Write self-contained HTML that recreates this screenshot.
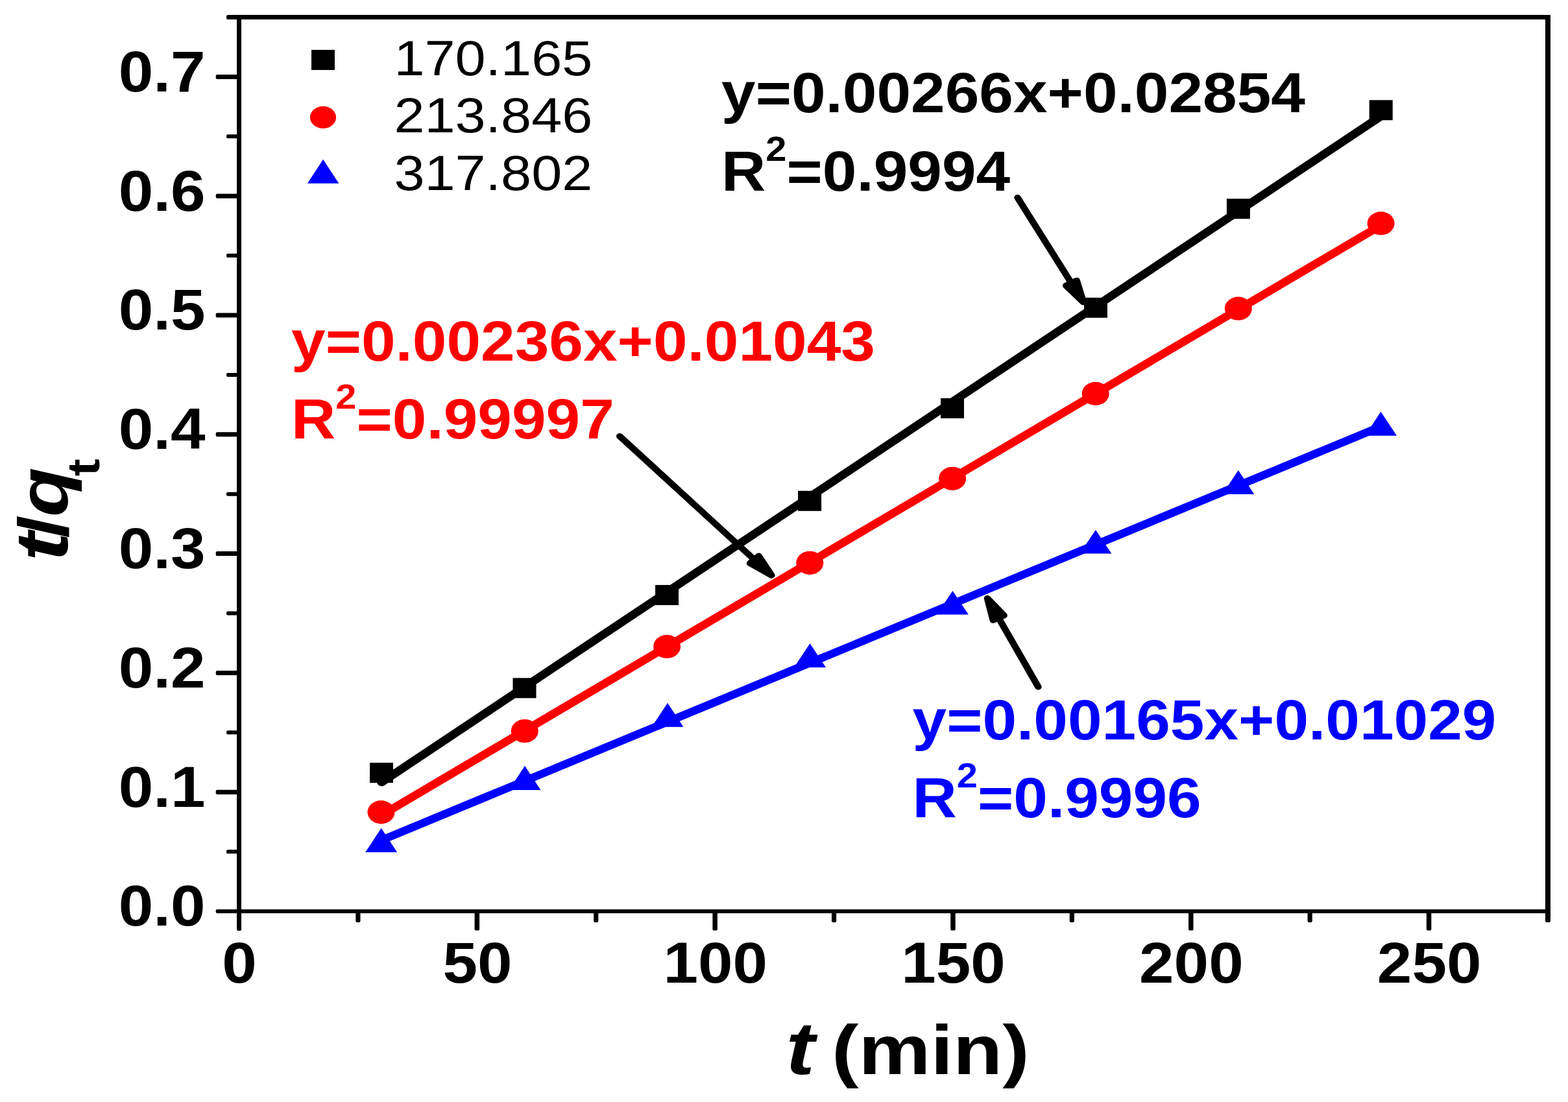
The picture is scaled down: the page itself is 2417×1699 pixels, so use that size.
<!DOCTYPE html>
<html lang="en"><head><meta charset="utf-8"><title>t/qt versus t (min)</title>
<style>html,body{margin:0;padding:0;background:#ffffff;}body{width:2417px;height:1699px;overflow:hidden;}svg{display:block;}text{font-family:"Liberation Sans",sans-serif;font-kerning:none;}.b{font-weight:bold;}.bi{font-weight:bold;font-style:italic;}.r{font-weight:normal;}</style></head><body>
<svg width="2417" height="1699" viewBox="0 0 2417 1699" role="img" aria-label="Pseudo-second-order kinetics plot: t/qt versus t (min)">
<rect x="0" y="0" width="2417" height="1699" fill="#ffffff"/>
<g id="series">
<g class="markers-s">
<rect x="570.00" y="1175.90" width="36.00" height="31.00" fill="#000000"/>
<rect x="790.50" y="1045.30" width="36.00" height="31.00" fill="#000000"/>
<rect x="1010.05" y="901.90" width="36.00" height="31.00" fill="#000000"/>
<rect x="1230.10" y="756.80" width="36.00" height="31.00" fill="#000000"/>
<rect x="1450.00" y="613.90" width="36.00" height="31.00" fill="#000000"/>
<rect x="1671.00" y="458.90" width="36.00" height="31.00" fill="#000000"/>
<rect x="1890.90" y="306.40" width="36.00" height="31.00" fill="#000000"/>
<rect x="2110.70" y="154.30" width="36.00" height="31.00" fill="#000000"/>
</g>
<g transform="scale(1.150,1)"><line x1="511.47" y1="1206.08" x2="1851.15" y2="179.09" stroke="#000000" stroke-width="12.10" stroke-linecap="round"/></g>
<g class="markers-c">
<ellipse cx="587.50" cy="1252.10" rx="21.00" ry="18.10" fill="#ff0000"/>
<ellipse cx="808.80" cy="1127.00" rx="21.00" ry="18.10" fill="#ff0000"/>
<ellipse cx="1028.10" cy="996.90" rx="21.00" ry="18.10" fill="#ff0000"/>
<ellipse cx="1248.30" cy="867.80" rx="21.00" ry="18.10" fill="#ff0000"/>
<ellipse cx="1468.10" cy="737.80" rx="21.00" ry="18.10" fill="#ff0000"/>
<ellipse cx="1688.70" cy="606.90" rx="21.00" ry="18.10" fill="#ff0000"/>
<ellipse cx="1908.80" cy="475.70" rx="21.00" ry="18.10" fill="#ff0000"/>
<ellipse cx="2128.55" cy="344.40" rx="21.00" ry="18.10" fill="#ff0000"/>
</g>
<g transform="scale(1.150,1)"><line x1="511.47" y1="1256.71" x2="1851.15" y2="347.16" stroke="#ff0000" stroke-width="12.10" stroke-linecap="round"/></g>
<g class="markers-t">
<polygon points="587.70,1276.70 612.20,1314.00 563.20,1314.00" fill="#0000ff"/>
<polygon points="809.00,1180.70 833.50,1217.90 784.50,1217.90" fill="#0000ff"/>
<polygon points="1029.00,1083.80 1053.50,1120.80 1004.50,1120.80" fill="#0000ff"/>
<polygon points="1248.50,992.00 1273.00,1028.90 1224.00,1028.90" fill="#0000ff"/>
<polygon points="1468.40,911.10 1492.90,947.60 1443.90,947.60" fill="#0000ff"/>
<polygon points="1688.90,817.10 1713.40,853.60 1664.40,853.60" fill="#0000ff"/>
<polygon points="1908.80,724.90 1933.30,761.90 1884.30,761.90" fill="#0000ff"/>
<polygon points="2128.50,634.70 2153.00,671.80 2104.00,671.80" fill="#0000ff"/>
</g>
<g transform="scale(1.150,1)"><line x1="511.47" y1="1295.34" x2="1851.15" y2="657.53" stroke="#0000ff" stroke-width="12.10" stroke-linecap="round"/></g>
</g>
<g id="arrows" transform="scale(1.150,1)" stroke="#000" stroke-width="9.20" fill="none">
<line x1="1363.91" y1="304.60" x2="1436.01" y2="436.41" stroke-linecap="round"/>
<polygon points="1452.09,465.80 1428.86,440.32 1443.16,432.50" fill="#000" stroke-linejoin="round"/>
<line x1="830.61" y1="672.50" x2="1011.20" y2="862.80" stroke-linecap="round"/>
<polygon points="1034.26,887.10 1005.29,868.41 1017.11,857.19" fill="#000" stroke-linejoin="round"/>
<line x1="1391.65" y1="1059.00" x2="1338.45" y2="952.47" stroke-linecap="round"/>
<polygon points="1323.48,922.50 1345.74,948.83 1331.16,956.11" fill="#000" stroke-linejoin="round"/>
</g>
<g id="axes" fill="#000" shape-rendering="crispEdges">
<rect x="365.00" y="23.00" width="7.00" height="1385.00" fill="#000"/>
<rect x="2382.00" y="23.00" width="8.00" height="1385.00" fill="#000"/>
<rect x="365.00" y="23.00" width="2025.00" height="7.00" fill="#000"/>
<rect x="365.00" y="1402.00" width="2025.00" height="6.00" fill="#000"/>
</g>
<g id="ticks" fill="#000">
<rect x="332.70" y="1402.00" width="34.30" height="6.00" rx="2.2" ry="2.2"/>
<rect x="349.00" y="23.00" width="18.00" height="7.00" rx="2.2" ry="2.2"/>
<rect x="365.00" y="1404.00" width="7.00" height="31.00" rx="2.2" ry="2.2"/>
<rect x="2382.00" y="1404.00" width="8.00" height="18.00" rx="2.2" ry="2.2"/>
<rect x="332.70" y="1217.70" width="34.30" height="7.00" rx="2.2" ry="2.2"/>
<rect x="332.70" y="1033.90" width="34.30" height="7.00" rx="2.2" ry="2.2"/>
<rect x="332.70" y="850.10" width="34.30" height="7.00" rx="2.2" ry="2.2"/>
<rect x="332.70" y="666.30" width="34.30" height="7.00" rx="2.2" ry="2.2"/>
<rect x="332.70" y="482.50" width="34.30" height="7.00" rx="2.2" ry="2.2"/>
<rect x="332.70" y="298.70" width="34.30" height="7.00" rx="2.2" ry="2.2"/>
<rect x="332.70" y="114.90" width="34.30" height="7.00" rx="2.2" ry="2.2"/>
<rect x="349.00" y="1310.10" width="18.00" height="6.00" rx="2.2" ry="2.2"/>
<rect x="349.00" y="1126.30" width="18.00" height="6.00" rx="2.2" ry="2.2"/>
<rect x="349.00" y="942.50" width="18.00" height="6.00" rx="2.2" ry="2.2"/>
<rect x="349.00" y="758.70" width="18.00" height="6.00" rx="2.2" ry="2.2"/>
<rect x="349.00" y="574.90" width="18.00" height="6.00" rx="2.2" ry="2.2"/>
<rect x="349.00" y="391.10" width="18.00" height="6.00" rx="2.2" ry="2.2"/>
<rect x="349.00" y="207.30" width="18.00" height="6.00" rx="2.2" ry="2.2"/>
<rect x="731.57" y="1404.00" width="7.50" height="30.60" rx="2.2" ry="2.2"/>
<rect x="1098.39" y="1404.00" width="7.50" height="30.60" rx="2.2" ry="2.2"/>
<rect x="1465.20" y="1404.00" width="7.50" height="30.60" rx="2.2" ry="2.2"/>
<rect x="1832.02" y="1404.00" width="7.50" height="30.60" rx="2.2" ry="2.2"/>
<rect x="2198.84" y="1404.00" width="7.50" height="30.60" rx="2.2" ry="2.2"/>
<rect x="548.31" y="1404.00" width="7.20" height="17.90" rx="2.2" ry="2.2"/>
<rect x="915.13" y="1404.00" width="7.20" height="17.90" rx="2.2" ry="2.2"/>
<rect x="1281.95" y="1404.00" width="7.20" height="17.90" rx="2.2" ry="2.2"/>
<rect x="1648.76" y="1404.00" width="7.20" height="17.90" rx="2.2" ry="2.2"/>
<rect x="2015.58" y="1404.00" width="7.20" height="17.90" rx="2.2" ry="2.2"/>
</g>
<g id="ylabels">
<text class="b" transform="translate(316.50,1427.40) scale(1.0880,1)" font-size="88.50" fill="#000" text-anchor="end">0.0</text>
<text class="b" transform="translate(316.50,1243.60) scale(1.0880,1)" font-size="88.50" fill="#000" text-anchor="end">0.1</text>
<text class="b" transform="translate(316.50,1059.80) scale(1.0880,1)" font-size="88.50" fill="#000" text-anchor="end">0.2</text>
<text class="b" transform="translate(316.50,876.00) scale(1.0880,1)" font-size="88.50" fill="#000" text-anchor="end">0.3</text>
<text class="b" transform="translate(316.50,692.20) scale(1.0880,1)" font-size="88.50" fill="#000" text-anchor="end">0.4</text>
<text class="b" transform="translate(316.50,508.40) scale(1.0880,1)" font-size="88.50" fill="#000" text-anchor="end">0.5</text>
<text class="b" transform="translate(316.50,324.60) scale(1.0880,1)" font-size="88.50" fill="#000" text-anchor="end">0.6</text>
<text class="b" transform="translate(316.50,140.80) scale(1.0880,1)" font-size="88.50" fill="#000" text-anchor="end">0.7</text>
</g>
<g id="xlabels">
<text class="b" transform="translate(369.10,1514.80) scale(1.0880,1)" font-size="88.50" fill="#000" text-anchor="middle">0</text>
<text class="b" transform="translate(735.92,1514.80) scale(1.0880,1)" font-size="88.50" fill="#000" text-anchor="middle">50</text>
<text class="b" transform="translate(1102.74,1514.80) scale(1.0880,1)" font-size="88.50" fill="#000" text-anchor="middle">100</text>
<text class="b" transform="translate(1469.55,1514.80) scale(1.0880,1)" font-size="88.50" fill="#000" text-anchor="middle">150</text>
<text class="b" transform="translate(1836.37,1514.80) scale(1.0880,1)" font-size="88.50" fill="#000" text-anchor="middle">200</text>
<text class="b" transform="translate(2203.19,1514.80) scale(1.0880,1)" font-size="88.50" fill="#000" text-anchor="middle">250</text>
</g>
<g id="legend">
<rect x="480.00" y="76.90" width="36.00" height="31.00" fill="#000000"/>
<ellipse cx="498.00" cy="180.96" rx="20.10" ry="17.10" fill="#ff0000"/>
<polygon points="498.10,245.80 522.30,282.70 473.90,282.70" fill="#0000ff"/>
<text class="r" transform="translate(607.50,116.00) scale(1.1130,1)" font-size="76.00" fill="#000" text-anchor="start">170.165</text>
<text class="r" transform="translate(607.50,203.80) scale(1.1130,1)" font-size="76.00" fill="#000" text-anchor="start">213.846</text>
<text class="r" transform="translate(607.50,293.00) scale(1.1130,1)" font-size="76.00" fill="#000" text-anchor="start">317.802</text>
</g>
<g id="annotations">
<text class="b" transform="translate(1112.00,172.80) scale(1.0880,1)" font-size="87.00" fill="#000000" text-anchor="start">y=0.00266x+0.02854</text>
<text class="b" transform="translate(1112.00,294.00) scale(1.0880,1)" font-size="87.00" fill="#000000" text-anchor="start">R<tspan font-size="53.1" dy="-46">2</tspan><tspan dy="46">=0.9994</tspan></text>
<text class="b" transform="translate(449.00,556.00) scale(1.0880,1)" font-size="87.00" fill="#ff0000" text-anchor="start">y=0.00236x+0.01043</text>
<text class="b" transform="translate(449.00,676.40) scale(1.0880,1)" font-size="87.00" fill="#ff0000" text-anchor="start">R<tspan font-size="53.1" dy="-46">2</tspan><tspan dy="46">=0.99997</tspan></text>
<text class="b" transform="translate(1406.50,1139.80) scale(1.0880,1)" font-size="87.00" fill="#0000ff" text-anchor="start">y=0.00165x+0.01029</text>
<text class="b" transform="translate(1406.50,1260.20) scale(1.0880,1)" font-size="87.00" fill="#0000ff" text-anchor="start">R<tspan font-size="53.1" dy="-46">2</tspan><tspan dy="46">=0.9996</tspan></text>
</g>
<g id="titles">
<text class="b" transform="translate(1211.50,1656.10) scale(1.1550,1)" font-size="108.00" fill="#000" text-anchor="start"><tspan class="bi" font-size="115.6" x="0">t</tspan><tspan x="31.00"> (min)</tspan></text>
<text class="b" transform="translate(103.50,865.10) rotate(-90) scale(1.1550,1)" font-size="108.00" fill="#000" text-anchor="start"><tspan class="bi" font-size="115.6" x="0">t</tspan><tspan class="b" x="30.75">/</tspan><tspan class="bi" x="59.10">q</tspan><tspan class="b" font-size="70.0" x="113.20" dy="49.7">t</tspan></text>
</g>
</svg></body></html>
